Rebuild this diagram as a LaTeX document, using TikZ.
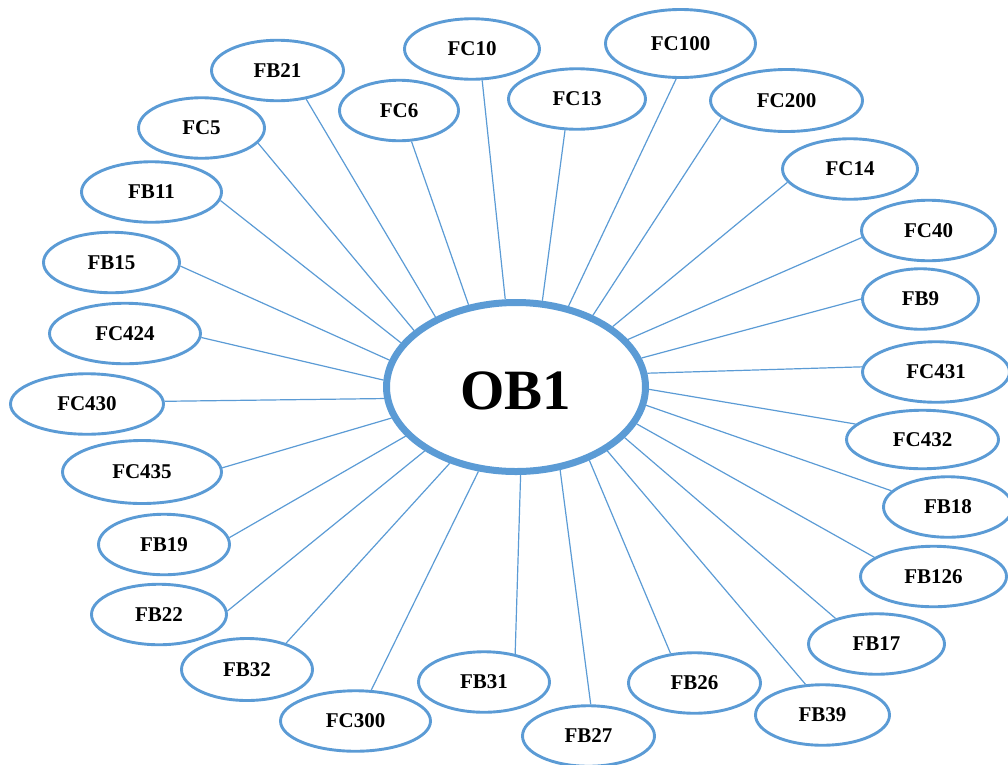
\documentclass[tikz,border=0pt]{standalone}
\usepackage{fontspec}
\setmainfont{Liberation Serif}
\usetikzlibrary{shapes.geometric}
\definecolor{linkblue}{HTML}{5B9BD5}
\begin{document}
\begin{tikzpicture}[x=1pt,y=-1pt,
  hub/.style={ellipse, draw=linkblue, line width=7pt, fill=white, inner sep=0pt,
    minimum width=259pt, minimum height=169pt, text height=46pt,
    font=\fontsize{57}{60}\selectfont\bfseries},
  leaf/.style={ellipse, draw=linkblue, line width=2.9pt, fill=white, inner sep=0pt,
    minimum height=60.5pt, font=\fontsize{21}{24}\selectfont\bfseries},
  link/.style={draw=linkblue, line width=1.2pt}]
\useasboundingbox (0,0) rectangle (1008,764);
\clip (0,0) rectangle (1008,764);

% central node
\node[hub] (OB1) at (516,387) {OB1};

% surrounding nodes
\node[leaf, minimum width=132pt] (FB21) at (277.5,70.5) {FB21};
\node[leaf, minimum width=135pt] (FC10) at (472,49) {FC10};
\node[leaf, minimum width=119pt] (FC6) at (399,110.5) {FC6};
\node[leaf, minimum width=126pt] (FC5) at (201.5,128) {FC5};
\node[leaf, minimum width=140pt] (FB11) at (151.5,192) {FB11};
\node[leaf, minimum width=136pt] (FB15) at (111.5,262.5) {FB15};
\node[leaf, minimum width=151pt] (FC424) at (125,333.5) {FC424};
\node[leaf, minimum width=137pt] (FC13) at (577,99) {FC13};
\node[leaf, minimum width=150pt, minimum height=68pt] (FC100) at (680.5,43.5) {FC100};
\node[leaf, minimum width=152pt, minimum height=62pt] (FC200) at (786.5,100.5) {FC200};
\node[leaf, minimum width=135pt] (FC14) at (850,169) {FC14};
\node[leaf, minimum width=134pt] (FC40) at (928.5,230.5) {FC40};
\node[leaf, minimum width=116pt] (FB9) at (920.5,299) {FB9};
\node[leaf, minimum width=147pt] (FC431) at (936,372) {FC431};
\node[leaf, minimum width=152pt, minimum height=58.5pt] (FC432) at (922.5,439.5) {FC432};
\node[leaf, minimum width=129pt] (FB18) at (948,507) {FB18};
\node[leaf, minimum width=146pt] (FB126) at (933.5,576.5) {FB126};
\node[leaf, minimum width=136pt] (FB17) at (876.5,644) {FB17};
\node[leaf, minimum width=134pt] (FB39) at (822.5,715) {FB39};
\node[leaf, minimum width=132pt] (FB26) at (694.5,683) {FB26};
\node[leaf, minimum width=132pt] (FB27) at (588.5,736) {FB27};
\node[leaf, minimum width=131pt] (FB31) at (484,682) {FB31};
\node[leaf, minimum width=153pt] (FC430) at (87,404) {FC430};
\node[leaf, minimum width=159pt, minimum height=63pt] (FC435) at (142,472) {FC435};
\node[leaf, minimum width=131pt] (FB19) at (164,544.5) {FB19};
\node[leaf, minimum width=135pt] (FB22) at (159,614.5) {FB22};
\node[leaf, minimum width=131pt, minimum height=62pt] (FB32) at (247,669.5) {FB32};
\node[leaf, minimum width=150pt] (FC300) at (355.5,721) {FC300};

% spokes: name / angle on the hub / angle on the leaf
\foreach \n/\a/\b in {FB21/139/315, FC6/120/292, FC10/97/288, FC5/151/345,
    FB11/159/353, FB15/168/357, FC424/177/357, FC13/73/249, FC100/57/263,
    FC200/43/195, FC14/32/192, FC40/23/186, FB9/13/180, FC431/6/176,
    FC432/359/167, FB18/352/164, FB126/343/162, FB17/335/148, FB39/325/119,
    FB26/315/129, FB27/298/86, FB31/273/42, FC430/185/2, FC435/194/3,
    FB19/204/6, FB22/215/3, FB32/229/34, FC300/246/63}
  \draw[link] (OB1.\a) -- (\n.\b);
\end{tikzpicture}
\end{document}
